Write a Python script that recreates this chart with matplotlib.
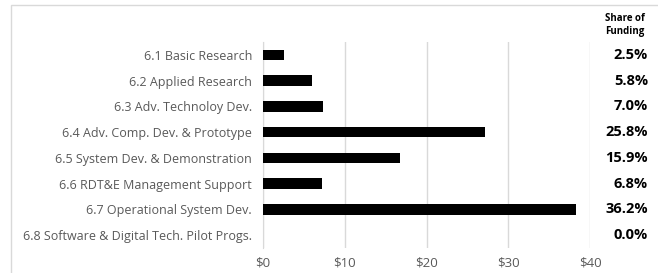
import matplotlib.pyplot as plt
from matplotlib.patches import Rectangle

# funding by budget activity ($B)
categories = ["6.1 Basic Research", "6.2 Applied Research", "6.3 Adv. Technoloy Dev.",
              "6.4 Adv. Comp. Dev. & Prototype", "6.5 System Dev. & Demonstration",
              "6.6 RDT&E Management Support", "6.7 Operational System Dev.",
              "6.8 Software & Digital Tech. Pilot Progs."]
funding = [2.6, 6.0, 7.3, 27.2, 16.8, 7.2, 38.3, 0.0]
shares = ["2.5%", "5.8%", "7.0%", "25.8%", "15.9%", "6.8%", "36.2%", "0.0%"]
xticks = [0, 10, 20, 30, 40]
xticklabels = ["$0", "$10", "$20", "$30", "$40"]

plt.rcParams['font.family'] = ['Open Sans', 'DejaVu Sans']

fig = plt.figure(figsize=(6.58, 2.73), dpi=100)
ax = fig.add_axes([0.3997, 0.0916, 0.497, 0.7545])

y = list(range(len(categories)))
ax.barh(y, funding, height=0.4, color="black", zorder=3)
ax.set_ylim(len(categories) - 0.5, -0.5)
ax.set_xlim(0, 40)
ax.set_xticks(xticks)
ax.set_xticklabels(xticklabels, color="#595959", fontsize=9.5)
ax.set_yticks(y)
ax.set_yticklabels(categories, color="#595959", fontsize=9)
ax.tick_params(length=0, pad=8)
ax.tick_params(axis="x", pad=6)
ax.grid(axis="x", color="#d9d9d9", lw=1, zorder=0)
for s in ["top", "right", "bottom"]:
    ax.spines[s].set_visible(False)
ax.spines["left"].set_color("#d9d9d9")

# share of funding column
for yi, s in zip(y, shares):
    ax.text(1.177, yi, s, transform=ax.get_yaxis_transform(), ha="right", va="center",
            fontsize=10.5, fontweight="bold", color="black")
fig.text(0.919, 0.908, "Share of\nFunding", ha="left", va="center", fontsize=7,
         fontweight="bold", color="black", linespacing=1.3)

# outer chart border
fig.patches.append(Rectangle((11 / 658, -0.1), 1.0, 1.1 - 5 / 273, transform=fig.transFigure,
                             fill=False, edgecolor="#d9d9d9", lw=1))

fig.savefig("out.png", dpi=100)
